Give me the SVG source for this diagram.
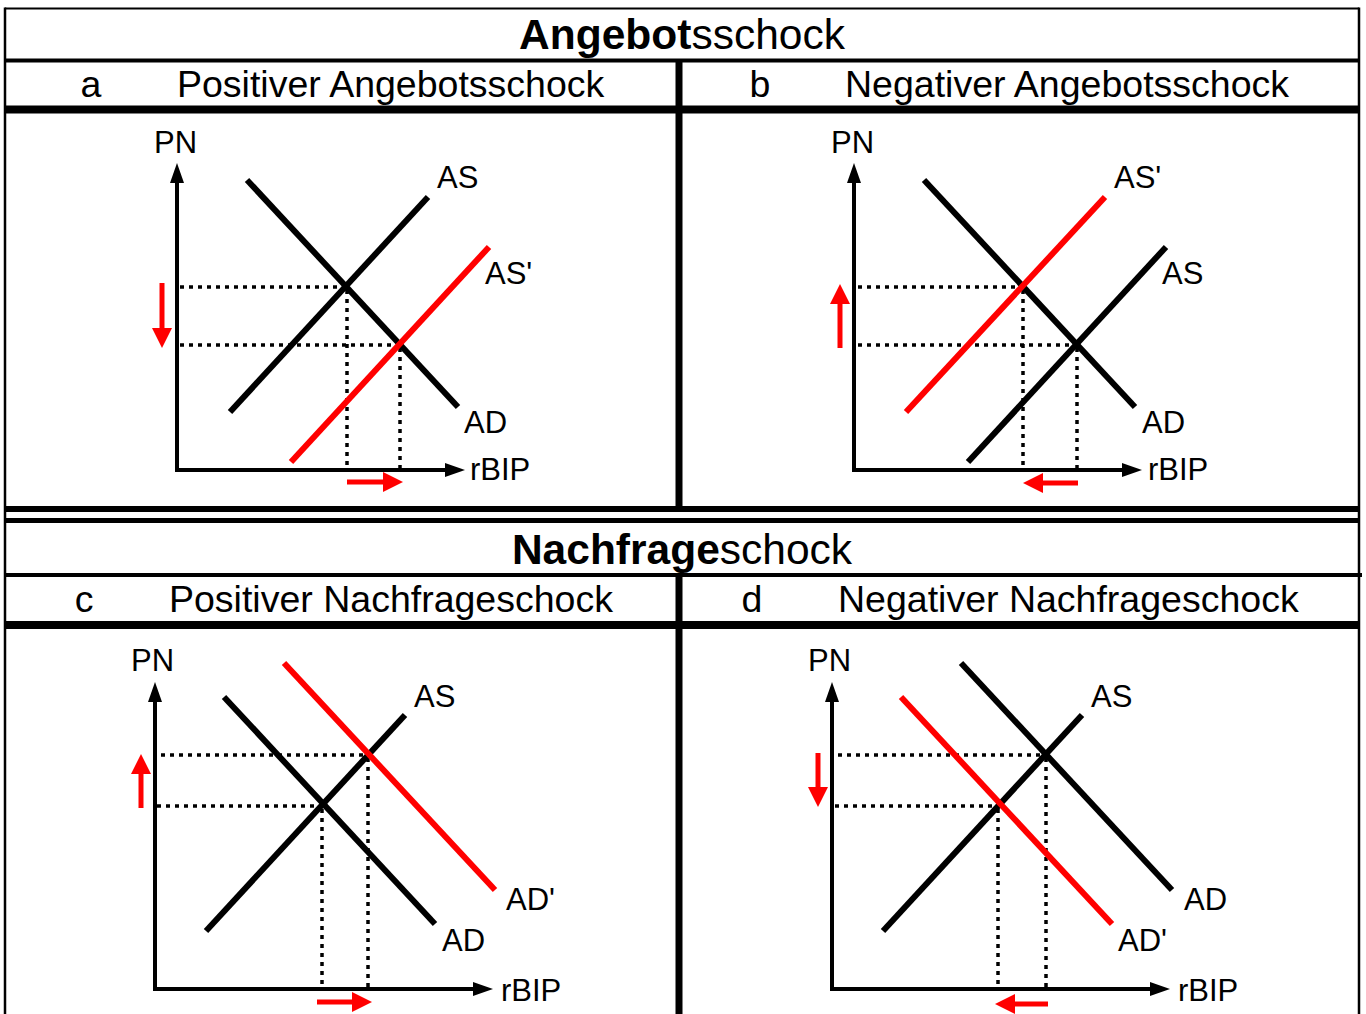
<svg xmlns="http://www.w3.org/2000/svg" width="1366" height="1014" viewBox="0 0 1366 1014">
<style>
text{font-family:"Liberation Sans",Arial,sans-serif;fill:#000}
.ttl{font-size:42.5px}
.hd{font-size:37.5px}
.lb{font-size:31px}
.grid{stroke:#000;fill:none}
.ax{stroke:#000;stroke-width:4;fill:none}
.crv{stroke:#000;stroke-width:6;fill:none}
.red{stroke:#ff0000;stroke-width:6;fill:none}
.dot{stroke:#000;stroke-width:3.5;stroke-dasharray:4 5;fill:none}
.ra{stroke:#ff0000;stroke-width:5;fill:none}
</style>
<defs>
<marker id="axh" markerUnits="userSpaceOnUse" markerWidth="20" markerHeight="14" refX="0" refY="7" orient="auto-start-reverse"><path d="M0,0 L20,7 L0,14 z" fill="#000"/></marker>
<marker id="rh" markerUnits="userSpaceOnUse" markerWidth="20" markerHeight="20" refX="0" refY="10" orient="auto"><path d="M0,0 L20,10 L0,20 z" fill="#ff0000"/></marker>
</defs>
<rect width="1366" height="1014" fill="#fff"/>
<g id="table">
<line class="grid" x1="5" y1="8.5" x2="1359" y2="8.5" stroke-width="2"/>
<line class="grid" x1="5" y1="7.5" x2="5" y2="1014" stroke-width="2.5"/>
<line class="grid" x1="1359" y1="7.5" x2="1359" y2="1014" stroke-width="2.5"/>
<line class="grid" x1="5" y1="60.5" x2="1359" y2="60.5" stroke-width="4"/>
<line class="grid" x1="5" y1="109.5" x2="1359" y2="109.5" stroke-width="8"/>
<line class="grid" x1="679" y1="60" x2="679" y2="509" stroke-width="7"/>
<line class="grid" x1="5" y1="509" x2="1359" y2="509" stroke-width="6"/>
<line class="grid" x1="5" y1="520.5" x2="1359" y2="520.5" stroke-width="5"/>
<line class="grid" x1="5" y1="575" x2="1362" y2="575" stroke-width="4"/>
<line class="grid" x1="5" y1="625" x2="1359" y2="625" stroke-width="8"/>
<line class="grid" x1="679" y1="575" x2="679" y2="1014" stroke-width="7"/>
</g>
<g id="headers">
<text class="ttl" x="682" y="49" text-anchor="middle"><tspan font-weight="bold">Angebot</tspan>sschock</text>
<text class="hd" x="91" y="97" text-anchor="middle">a</text>
<text class="hd" x="177" y="97">Positiver Angebotsschock</text>
<text class="hd" x="760" y="97" text-anchor="middle">b</text>
<text class="hd" x="845" y="97">Negativer Angebotsschock</text>
<text class="ttl" x="682" y="564" text-anchor="middle"><tspan font-weight="bold">Nachfrage</tspan>schock</text>
<text class="hd" x="84" y="612" text-anchor="middle">c</text>
<text class="hd" x="169" y="612">Positiver Nachfrageschock</text>
<text class="hd" x="752" y="612" text-anchor="middle">d</text>
<text class="hd" x="838" y="612">Negativer Nachfrageschock</text>
</g>
<g id="panel-a">
<line class="dot" x1="180" y1="287" x2="346" y2="287"/>
<line class="dot" x1="180" y1="345" x2="400" y2="345"/>
<line class="dot" x1="347" y1="290" x2="347" y2="468"/>
<line class="dot" x1="400" y1="348" x2="400" y2="468"/>
<line class="crv" x1="230" y1="412" x2="428" y2="197"/>
<line class="crv" x1="247" y1="180" x2="458" y2="407"/>
<line class="red" x1="291" y1="462" x2="489" y2="247"/>
<polyline class="ax" points="177,183 177,470 445,470" marker-start="url(#axh)" marker-end="url(#axh)"/>
<line class="ra" x1="162" y1="283" x2="162" y2="328" marker-end="url(#rh)"/>
<line class="ra" x1="347" y1="482" x2="383" y2="482" marker-end="url(#rh)"/>
<text class="lb" x="154" y="153">PN</text>
<text class="lb" x="437" y="188">AS</text>
<text class="lb" x="485" y="284">AS'</text>
<text class="lb" x="464" y="433">AD</text>
<text class="lb" x="470" y="480">rBIP</text>
</g>
<g id="panel-b">
<line class="dot" x1="858" y1="287" x2="1023" y2="287"/>
<line class="dot" x1="858" y1="345" x2="1077" y2="345"/>
<line class="dot" x1="1023" y1="290" x2="1023" y2="468"/>
<line class="dot" x1="1077" y1="348" x2="1077" y2="468"/>
<line class="crv" x1="968" y1="462" x2="1166" y2="247"/>
<line class="crv" x1="924" y1="180" x2="1135" y2="407"/>
<line class="red" x1="906" y1="412" x2="1105" y2="197"/>
<polyline class="ax" points="854,183 854,470 1122,470" marker-start="url(#axh)" marker-end="url(#axh)"/>
<line class="ra" x1="840" y1="348" x2="840" y2="304" marker-end="url(#rh)"/>
<line class="ra" x1="1078" y1="483" x2="1043" y2="483" marker-end="url(#rh)"/>
<text class="lb" x="831" y="153">PN</text>
<text class="lb" x="1114" y="188">AS'</text>
<text class="lb" x="1162" y="284">AS</text>
<text class="lb" x="1142" y="433">AD</text>
<text class="lb" x="1148" y="480">rBIP</text>
</g>
<g id="panel-c">
<line class="dot" x1="161" y1="755" x2="369" y2="755"/>
<line class="dot" x1="157" y1="806" x2="321" y2="806"/>
<line class="dot" x1="322" y1="809" x2="322" y2="988"/>
<line class="dot" x1="368" y1="758" x2="368" y2="988"/>
<line class="crv" x1="206" y1="931" x2="405" y2="715"/>
<line class="crv" x1="224" y1="697" x2="435" y2="924"/>
<line class="red" x1="284" y1="663" x2="495" y2="890"/>
<polyline class="ax" points="155,702 155,989 473,989" marker-start="url(#axh)" marker-end="url(#axh)"/>
<line class="ra" x1="141" y1="808" x2="141" y2="774" marker-end="url(#rh)"/>
<line class="ra" x1="317" y1="1002" x2="352" y2="1002" marker-end="url(#rh)"/>
<text class="lb" x="131" y="671">PN</text>
<text class="lb" x="414" y="707">AS</text>
<text class="lb" x="506" y="910">AD'</text>
<text class="lb" x="442" y="951">AD</text>
<text class="lb" x="501" y="1001">rBIP</text>
</g>
<g id="panel-d">
<line class="dot" x1="838" y1="755" x2="1046" y2="755"/>
<line class="dot" x1="835" y1="806" x2="998" y2="806"/>
<line class="dot" x1="998" y1="809" x2="998" y2="988"/>
<line class="dot" x1="1046" y1="758" x2="1046" y2="988"/>
<line class="crv" x1="883" y1="931" x2="1082" y2="715"/>
<line class="crv" x1="961" y1="663" x2="1172" y2="890"/>
<line class="red" x1="901" y1="697" x2="1112" y2="924"/>
<polyline class="ax" points="832,702 832,989 1150,989" marker-start="url(#axh)" marker-end="url(#axh)"/>
<line class="ra" x1="818" y1="753" x2="818" y2="787" marker-end="url(#rh)"/>
<line class="ra" x1="1048" y1="1004" x2="1015" y2="1004" marker-end="url(#rh)"/>
<text class="lb" x="808" y="671">PN</text>
<text class="lb" x="1091" y="707">AS</text>
<text class="lb" x="1184" y="910">AD</text>
<text class="lb" x="1118" y="951">AD'</text>
<text class="lb" x="1178" y="1001">rBIP</text>
</g>
</svg>
